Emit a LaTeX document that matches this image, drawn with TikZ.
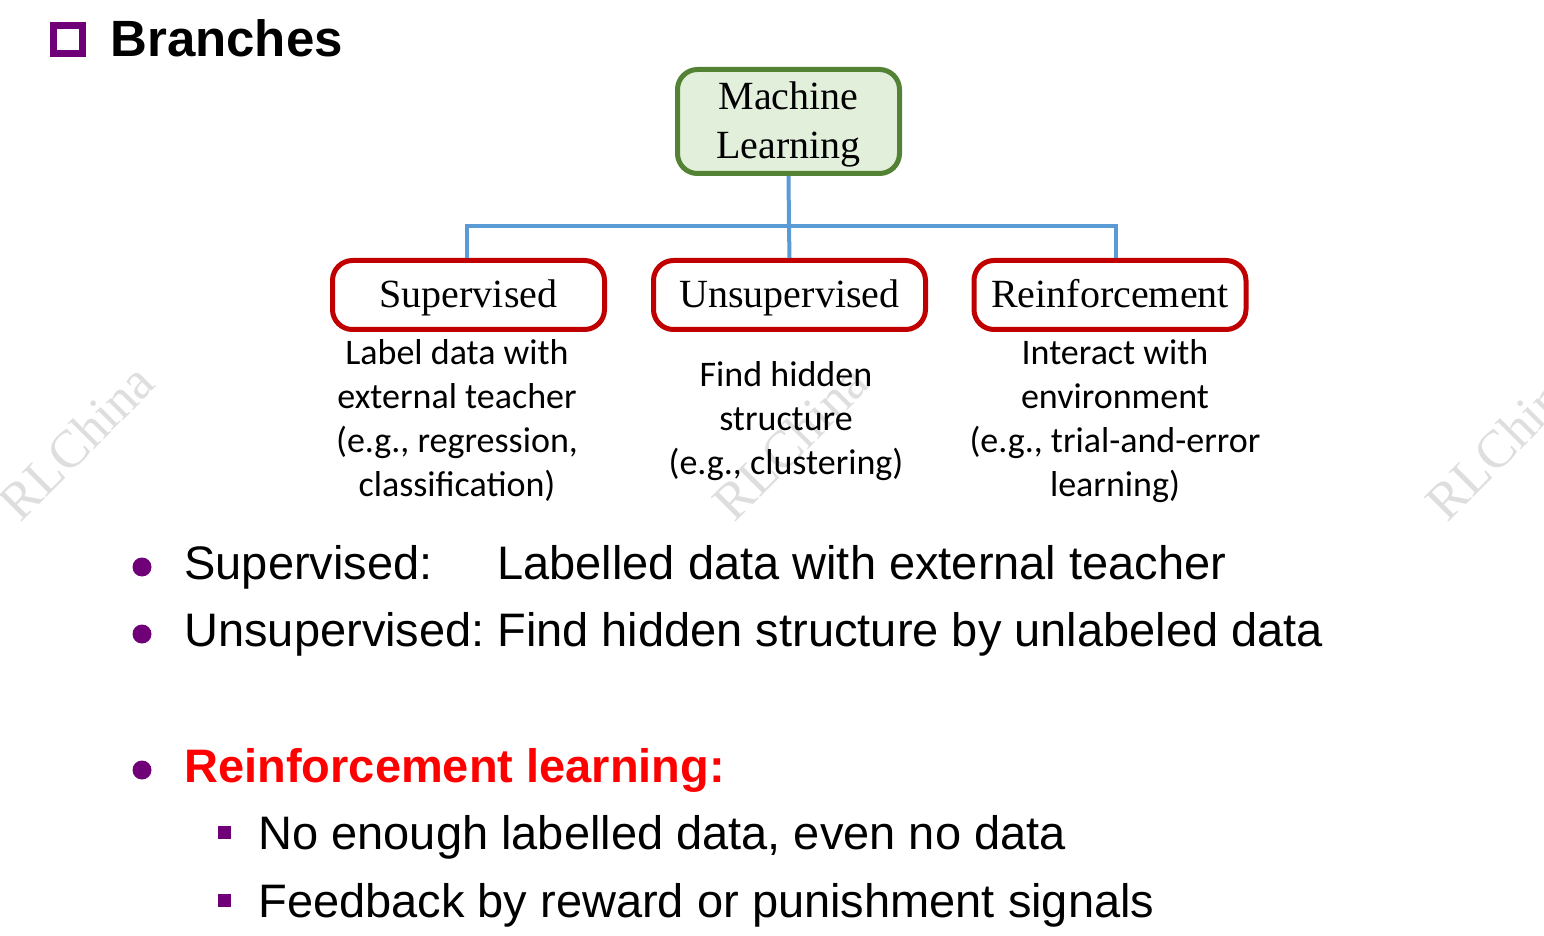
\documentclass[tikz,border=0pt]{standalone}
\usepackage{fontspec}
\setmainfont{Liberation Sans}
\newfontfamily\boxfont{Liberation Serif}
\newfontfamily\descfont{Carlito}
\newfontfamily\markfont{Liberation Serif}
\definecolor{mlgreen}{RGB}{84,130,53}
\definecolor{mlfill}{RGB}{226,239,218}
\definecolor{branchred}{RGB}{192,0,0}
\definecolor{linkblue}{RGB}{91,155,213}
\definecolor{bulletpurple}{RGB}{112,0,120}
\definecolor{markgray}{RGB}{222,222,222}
\begin{document}
\begin{tikzpicture}[x=0.5pt,y=-0.5pt,
  rootbox/.style={draw=mlgreen,fill=mlfill,line width=2.5pt,rounded corners=10pt,
    minimum width=111pt,minimum height=52pt,inner sep=0pt,align=center,
    font=\boxfont\fontsize{20}{24.5}\selectfont},
  branchbox/.style={draw=branchred,fill=white,line width=2.5pt,rounded corners=10pt,
    minimum width=136pt,minimum height=34.5pt,inner sep=0pt,
    text height=14pt,text depth=1pt,
    font=\boxfont\fontsize{20}{24}\selectfont},
  desc/.style={align=center,inner sep=0pt,anchor=north,
    font=\descfont\fontsize{18}{22}\selectfont},
  link/.style={draw=linkblue,line width=2pt},
  watermark/.style={text=markgray,rotate=45,inner sep=0pt,
    font=\markfont\fontsize{26.5}{30}\selectfont},
  bullettext/.style={anchor=base west,inner sep=0pt,font=\fontsize{23.5}{28}\selectfont},
  dot/.style={circle,fill=bulletpurple,minimum size=9.5pt,inner sep=0pt},
  subsq/.style={rectangle,fill=bulletpurple,minimum size=6.5pt,inner sep=0pt}
]
\useasboundingbox (0,0) rectangle (1544,936);

% background watermarks
\node[watermark] (wm1) at (76,442) {RLChina};
\node[watermark] (wm2) at (790,442) {RLChina};
\node[watermark] (wm3) at (1503,442) {RLChina};

% heading
\draw[bulletpurple,line width=3.5pt] (53.5,25.5) rectangle (82.5,53.5);
\node[anchor=base west,inner sep=0pt,font=\bfseries\fontsize{25.5}{30}\selectfont] (title) at (110,57) {Branches};

% tree
\node[rootbox] (ml) at (788.5,121.5) {\rule{0pt}{16.7pt}Machine\\Learning};
\node[branchbox] (sup) at (468.5,295) {Supervised};
\node[branchbox] (uns) at (789.5,295) {Unsupervised};
\node[branchbox] (rl) at (1110,295) {Reinforcement};

\coordinate (bus) at (789,226);
\draw[link] (ml.south) -- (bus);
\draw[link] (bus) -| ([xshift=-1pt]sup.north);
\draw[link] (bus) -- (uns.north);
\draw[link] (bus) -| ([xshift=3pt]rl.north);

\node[desc] (supd) at (457,339) {Label data with\\external teacher\\(e.g., regression,\\classification)};
\node[desc] (unsd) at (786,361) {Find hidden\\structure\\(e.g., clustering)};
\node[desc] (rld) at (1115,339) {Interact with\\environment\\(e.g., trial-and-error\\learning)};

% bullet list
\node[dot] (d1) at (142,567) {};
\node[bullettext] (t1a) at (184,580) {Supervised:};
\node[bullettext] (t1b) at (497,580) {Labelled data with external teacher};
\node[dot] (d2) at (142,634) {};
\node[bullettext] (t2a) at (184,646.5) {Unsupervised:};
\node[bullettext] (t2b) at (497,646.5) {Find hidden structure by unlabeled data};
\node[dot] (d3) at (142,770) {};
\node[bullettext,text=red,font=\bfseries\fontsize{23.5}{28}\selectfont] (t3) at (184,782.5) {Reinforcement learning:};
\node[subsq] (s1) at (224.5,832.5) {};
\node[bullettext] (t4) at (258,849) {No enough labelled data, even no data};
\node[subsq] (s2) at (224.5,900.5) {};
\node[bullettext] (t5) at (258,917) {Feedback by reward or punishment signals};
\end{tikzpicture}
\end{document}
